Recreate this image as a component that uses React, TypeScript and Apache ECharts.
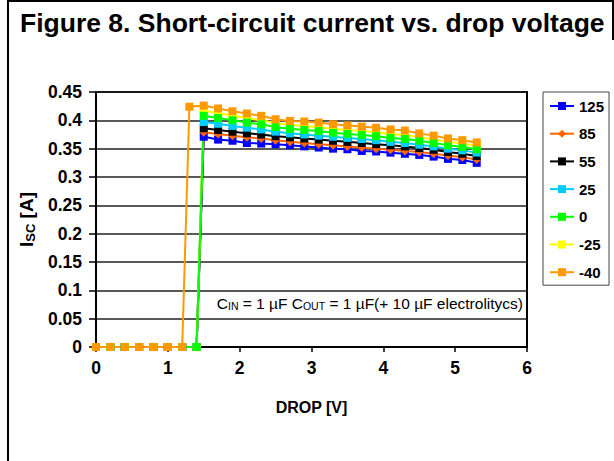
import React, { useEffect, useRef } from 'react';
import * as echarts from 'echarts';

const FONT = 'Liberation Sans, Arial, Helvetica, sans-serif';

const temperatures = ['125', '85', '55', '25', '0', '-25', '-40'];
const colors = ['#0000FF', '#FF6600', '#000000', '#00CCFF', '#00FF00', '#FFFF00', '#FF9900'];
const symbols = ['rect', 'diamond', 'rect', 'rect', 'rect', 'rect', 'rect'];

// drop voltage [V] where the regulator is still in short-circuit protection (Isc = 0)
const dropLow = [0, 0.2, 0.4, 0.6, 0.8, 1.0, 1.2];
const dropJump = [1.4];
// drop voltage [V] of the measured current points
const dropHigh = [1.5, 1.7, 1.9, 2.1, 2.3, 2.5, 2.7, 2.9, 3.1, 3.3, 3.5, 3.7, 3.9, 4.1, 4.3, 4.5, 4.7, 4.9, 5.1, 5.3];
const dropHighM40 = [1.3, 1.5, 1.7, 1.9, 2.1, 2.3, 2.5, 2.7, 2.9, 3.1, 3.3, 3.5, 3.7, 3.9, 4.1, 4.3, 4.5, 4.7, 4.9, 5.1, 5.3];

// short-circuit current [A]
const isc125 = [0.371, 0.366, 0.364, 0.360, 0.359, 0.358, 0.356, 0.354, 0.352, 0.350, 0.349, 0.346, 0.345, 0.343, 0.341, 0.339, 0.336, 0.332, 0.330, 0.325];
const isc85 = [0.379, 0.376, 0.373, 0.370, 0.368, 0.365, 0.362, 0.360, 0.358, 0.356, 0.354, 0.352, 0.350, 0.348, 0.346, 0.344, 0.341, 0.338, 0.335, 0.331];
const isc55 = [0.386, 0.383, 0.380, 0.377, 0.375, 0.372, 0.370, 0.368, 0.366, 0.364, 0.362, 0.360, 0.358, 0.356, 0.354, 0.351, 0.348, 0.344, 0.341, 0.337];
const isc25 = [0.397, 0.394, 0.390, 0.387, 0.384, 0.380, 0.377, 0.375, 0.373, 0.371, 0.369, 0.367, 0.365, 0.362, 0.360, 0.357, 0.354, 0.350, 0.347, 0.343];
const isc0 = [0.408, 0.404, 0.400, 0.396, 0.393, 0.388, 0.385, 0.383, 0.381, 0.378, 0.376, 0.374, 0.372, 0.369, 0.367, 0.364, 0.360, 0.356, 0.353, 0.349];
const iscM25 = [0.417, 0.413, 0.408, 0.404, 0.400, 0.395, 0.392, 0.390, 0.388, 0.385, 0.383, 0.381, 0.379, 0.376, 0.374, 0.370, 0.366, 0.362, 0.359, 0.355];
const iscM40 = [0.424, 0.426, 0.421, 0.416, 0.412, 0.408, 0.402, 0.399, 0.398, 0.396, 0.393, 0.391, 0.389, 0.387, 0.384, 0.382, 0.377, 0.373, 0.368, 0.365, 0.361];

const xTicks = { min: 0, max: 6, interval: 1 };
const yTicks = { min: 0, max: 0.45, interval: 0.05 };

function buildData(name: string): number[][] {
  const zeros = dropLow.map((x) => [x, 0]);
  if (name === '-40') {
    return zeros.concat(dropHighM40.map((x, i) => [x, iscM40[i]]));
  }
  const vals: Record<string, number[]> = { '125': isc125, '85': isc85, '55': isc55, '25': isc25, '0': isc0, '-25': iscM25 };
  const v = vals[name];
  return zeros.concat(dropJump.map((x) => [x, 0])).concat(dropHigh.map((x, i) => [x, v[i]]));
}

// draw order: green after yellow so its 1.4 V point stays visible, -40 last
const drawOrder = ['125', '85', '55', '25', '-25', '0', '-40'];

export default function App() {
  const ref = useRef<HTMLDivElement>(null);
  useEffect(() => {
    if (!ref.current) return;
    const chart = echarts.init(ref.current, undefined, { renderer: 'svg' });
    const series = drawOrder.map((name) => {
      const idx = temperatures.indexOf(name);
      return {
        name,
        type: 'line',
        data: buildData(name),
        symbol: symbols[idx],
        symbolSize: name === '85' ? 9 : 8,
        showSymbol: true,
        color: colors[idx],
        lineStyle: { color: colors[idx], width: 2 },
        itemStyle: { color: colors[idx] },
      };
    });
    chart.setOption({
      animation: false,
      backgroundColor: '#ffffff',
      title: {
        text: 'Figure 8. Short-circuit current vs. drop voltage',
        left: 20,
        top: 9,
        padding: 0,
        textStyle: { fontFamily: FONT, fontSize: 26.5, fontWeight: 'bold', color: '#000' },
      },
      grid: {
        left: 96,
        right: 87,
        top: 92,
        bottom: 114,
        show: true,
        borderColor: '#000',
        borderWidth: 2,
        backgroundColor: '#fff',
      },
      legend: {
        orient: 'vertical',
        left: 543,
        top: 92,
        data: temperatures,
        itemWidth: 24,
        itemHeight: 10,
        itemGap: 12.7,
        padding: [6.5, 5, 5.5, 6],
        borderColor: '#444',
        borderWidth: 1,
        backgroundColor: '#fff',
        textStyle: { fontFamily: FONT, fontSize: 15, fontWeight: 'bold', color: '#000' },
      },
      xAxis: {
        type: 'value',
        min: xTicks.min,
        max: xTicks.max,
        interval: xTicks.interval,
        axisLine: { show: true, onZero: false, lineStyle: { color: '#000', width: 2 } },
        axisTick: { show: true, length: 5, lineStyle: { color: '#000', width: 1.5 } },
        axisLabel: { fontFamily: FONT, fontSize: 17.5, fontWeight: 'bold', color: '#000', margin: 12 },
        splitLine: { show: false },
        name: 'DROP [V]',
        nameLocation: 'middle',
        nameGap: 52,
        nameTextStyle: { fontFamily: FONT, fontSize: 16, fontWeight: 'bold', color: '#000' },
      },
      yAxis: {
        type: 'value',
        min: yTicks.min,
        max: yTicks.max,
        interval: yTicks.interval,
        axisLine: { show: true, lineStyle: { color: '#000', width: 2 } },
        axisTick: { show: true, length: 7, lineStyle: { color: '#000', width: 1.5 } },
        axisLabel: { fontFamily: FONT, fontSize: 17.5, fontWeight: 'bold', color: '#000', margin: 14 },
        splitLine: { show: true, lineStyle: { color: '#222', width: 1.5 } },
        name: '{i|I}{s|SC}{i| [A]}',
        nameLocation: 'middle',
        nameRotate: 90,
        nameGap: 55,
        nameTextStyle: {
          rich: {
            i: { fontFamily: FONT, fontSize: 19, fontWeight: 'bold', color: '#000' },
            s: { fontFamily: FONT, fontSize: 13, fontWeight: 'bold', color: '#000', padding: [9, 0, 0, 0] },
          },
        },
      },
      graphic: [
        {
          type: 'polyline',
          shape: { points: [[8, 461], [8, 1], [613, 1], [613, 40]] },
          style: { stroke: '#000', lineWidth: 2, fill: 'none' },
          z: 10,
        },
        {
          type: 'text',
          x: 523,
          y: 303,
          z: 10,
          style: {
            text: '{n|C}{s|IN}{n| = 1 µF C}{s|OUT}{n| = 1 µF(+ 10 µF electrolitycs)}',
            align: 'right',
            verticalAlign: 'middle',
            rich: {
              n: { fontFamily: FONT, fontSize: 15.5, fill: '#000', color: '#000' },
              s: { fontFamily: FONT, fontSize: 10.5, fill: '#000', color: '#000', padding: [6, 0, 0, 0] },
            },
          },
        },
      ],
      series,
    });
    return () => chart.dispose();
  }, []);
  return <div ref={ref} style={{ position: 'fixed', left: 0, top: 0, width: 614, height: 461 }} />;
}
